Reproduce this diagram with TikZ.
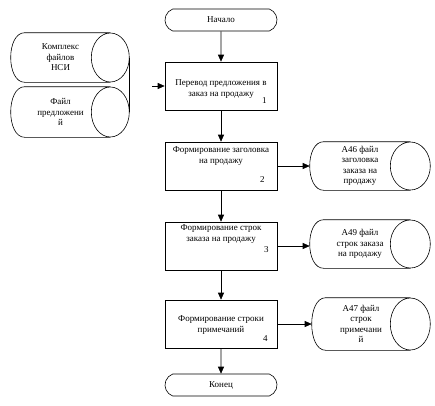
\documentclass[tikz,border=0pt]{standalone}
\usepackage{fontspec}
\setmainfont{Liberation Serif}
\usetikzlibrary{shapes.misc,arrows.meta,positioning}

\begin{document}
\begin{tikzpicture}[x=1pt,y=-1pt,every path/.style={line width=0.6pt},
    >={Triangle[length=7pt,width=6pt]},
    font=\fontsize{9}{10.5}\selectfont,
    proc/.style={draw,rectangle,minimum width=112pt,minimum height=48pt,inner sep=0pt},
    term/.style={draw,rounded rectangle,rounded rectangle arc length=140,minimum width=112pt,minimum height=22pt,inner sep=0pt},
    file/.style={rectangle,align=center,inner sep=0pt},
    txt/.style={align=center,inner sep=0pt},
    num/.style={inner sep=0pt}]
  \useasboundingbox (0,0) rectangle (435,405);

  \node[term] (start) at (221,20) {Начало};
  \node[proc] (p1) at (221,86) {};
  \node[proc] (p2) at (221,166) {};
  \node[proc] (p3) at (221,246) {};
  \node[proc] (p4) at (221,324) {};
  \node[term] (stop) at (221,385) {Конец};

  \node[txt,below=18pt of p1.north] (t1) {Перевод предложения в\\заказ на продажу};
  \node[txt,below=5pt of p2.north] (t2) {Формирование заголовка\\на продажу};
  \node[txt,below=3pt of p3.north] (t3) {Формирование строк\\заказа на продажу};
  \node[txt,below=16pt of p4.north] (t4) {Формирование строки\\примечаний};

  \node[num,above left=7pt and 10.5pt of p1.south east] (n1) {1};
  \node[num,above left=8pt and 12.5pt of p2.south east] (n2) {2};
  \node[num,above left=17pt and 8.5pt of p3.south east] (n3) {3};
  \node[num,above left=7pt and 9.5pt of p4.south east] (n4) {4};

  % files: body is the node, the end ellipse sticks out on the right
  \node[file,minimum width=99pt,minimum height=49pt] (nsi) at (60.5,57.5) {Комплекс\\файлов\\НСИ};
  \node[file,minimum width=99pt,minimum height=50pt] (pred) at (60.5,112) {Файл\\предложени\\й};
  \node[file,minimum width=100pt,minimum height=48pt] (f46) at (360,166) {А46 файл\\заголовка\\заказа на\\продажу};
  \node[file,minimum width=100pt,minimum height=48pt] (f49) at (360,244) {А49 файл\\строк заказа\\на продажу};
  \node[file,minimum width=98pt,minimum height=52pt] (f47) at (361,324) {А47 файл\\строк\\примечани\\й};

  \foreach \f/\r/\h in {nsi/19/24.5, pred/19/25, f46/20/24, f49/20/24, f47/20/26}
    \draw ([xshift=14pt]\f.north west) -- (\f.north east)
          (\f.south east) -- ([xshift=14pt]\f.south west)
          .. controls ([xshift=-4.67pt]\f.south west) and ([xshift=-4.67pt]\f.north west)
          .. ([xshift=14pt]\f.north west)
          (\f.east) ellipse [x radius=\r pt, y radius=\h pt];

  \coordinate (feed) at (152,86);

  \draw[->] (start) -- (p1);
  \draw[->] (p1) -- (p2);
  \draw[->] (p2) -- (p3);
  \draw[->] (p3) -- (p4);
  \draw[->] (p4) -- (stop);
  \draw[->] (p2.east) -- (p2.east -| f46.west);
  \draw[->] (p3.east) -- (p3.east -| f49.west);
  \draw[->] (p4.east) -- (p4.east -| f47.west);
  \draw ([xshift=19pt]nsi.east) -- ([xshift=19pt]pred.east);
  \draw[->] (feed) -- (p1.west);
\end{tikzpicture}
\end{document}
